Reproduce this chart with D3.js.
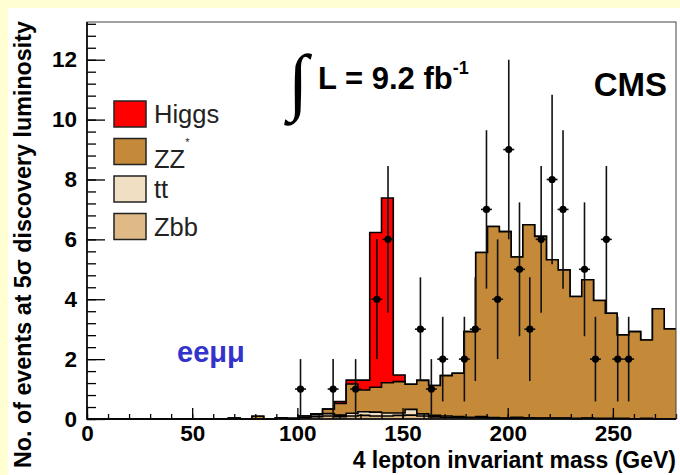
<!DOCTYPE html>
<html>
<head>
<meta charset="utf-8">
<script src="https://cdn.jsdelivr.net/npm/d3@7"></script>
<style>
  body { margin: 0; background: #ffffd2; }
  svg { display: block; font-family: "Liberation Sans", Arial, sans-serif; }
</style>
</head>
<body>
<div class="chart"></div>
<script>
// Histogram binning (GeV)
const massLow = 0;
const massHigh = 280;
const nBins = 50;

// Expected events per bin, one array per sample
const higgs = [
  0, 0, 0, 0, 0, 0, 0, 0, 0, 0, 0, 0, 0, 0, 0, 0, 0, 0, 0, 0, 0,
  0.06, 0.13, 0.33, 5.17, 6.17, 0.22,
  0, 0, 0, 0, 0, 0, 0, 0, 0, 0, 0, 0, 0, 0, 0, 0, 0, 0, 0, 0, 0, 0, 0
];
const zz = [
  0, 0, 0, 0, 0, 0, 0, 0, 0, 0, 0, 0, 0.03, 0, 0.09, 0, 0.02, 0.02, 0.04, 0.03,
  0.15, 0.39, 0.98, 0.73, 0.83, 1.01, 1.05, 0.84, 1.12, 1.0,
  1.35, 1.45, 2.86, 5.48, 6.38, 6.23, 5.35, 6.45, 6.07, 5.29,
  4.95, 4.07, 4.62, 3.94, 3.51, 2.79, 2.91, 2.62, 3.67, 3.0
];
const tt = [
  0, 0, 0, 0, 0, 0, 0, 0, 0, 0, 0, 0, 0, 0, 0, 0, 0, 0, 0.02, 0.06,
  0.08, 0.05, 0.09, 0.12, 0.13, 0.1, 0.08, 0.19, 0.07, 0.05,
  0.04, 0.03, 0.02, 0.04, 0.02, 0.01, 0.03, 0.02, 0.01, 0.01,
  0.01, 0.01, 0.01, 0.01, 0.01, 0.01, 0, 0.01, 0, 0
];
const zbb = [
  0, 0, 0, 0, 0, 0, 0, 0, 0, 0, 0, 0, 0, 0, 0, 0, 0.02, 0, 0.04, 0.08,
  0.1, 0.08, 0.1, 0.12, 0.1, 0.1, 0.12, 0.13, 0.1, 0.07,
  0.06, 0.05, 0.04, 0.04, 0.03, 0.02, 0.03, 0.02, 0.02, 0.02,
  0.02, 0.01, 0.02, 0.01, 0.01, 0.01, 0.01, 0.01, 0.01, 0.01
];

// Pseudo-data points
const dataMass = [101.5, 117.0, 127.7, 137.8, 143.1, 158.5, 163.7, 169.1, 179.4, 184.6, 189.9, 195.2,
  200.5, 205.6, 210.5, 215.9, 221.1, 226.3, 236.5, 241.7, 246.9, 252.3, 257.5];
const dataEvents = [1, 1, 1, 4, 6, 3, 1, 2, 2, 3, 7, 4, 9, 5, 3, 6, 8, 7, 5, 2, 6, 2, 2];

// Legend and axis labels
const sampleKeys = ["higgs", "zz", "tt", "zbb"];
const sampleNames = ["Higgs", "ZZ", "tt", "Zbb"];
const sampleColors = ["#ff0000", "#c48a3a", "#f0dfc2", "#dfba86"];
const xTickLabels = [0, 50, 100, 150, 200, 250];
const yTickLabels = [0, 2, 4, 6, 8, 10, 12];

// Chart sizes
const w = 680;
const h = 475;
const yMax = 13.26;
const plot = { left: 87, right: 676, top: 22, bottom: 419 };

const svg = d3.select(".chart").append("svg").attr("width", w).attr("height", h);

// white canvas inside the yellow page border
svg.append("rect").attr("x", 8).attr("y", 8).attr("width", w - 8).attr("height", h - 8).attr("fill", "#fff");

// SCALES //
const x = d3.scaleLinear().domain([massLow, massHigh]).range([plot.left, plot.right]);
const y = d3.scaleLinear().domain([0, yMax]).range([plot.bottom, plot.top]);

// STACKED HISTOGRAM //
const binWidth = (massHigh - massLow) / nBins;
const table = d3.range(nBins).map((i) => ({
  low: massLow + i * binWidth,
  higgs: higgs[i], zz: zz[i], tt: tt[i], zbb: zbb[i]
}));

const stack = d3.stack().keys(["zbb", "tt", "zz", "higgs"]);
const layers = stack(table);

// steps need one extra point at the upper edge
const stepPoints = (layer) => {
  const pts = layer.map((d) => ({ x: d.data.low, top: d[1] }));
  pts.push({ x: massHigh, top: layer[layer.length - 1][1] });
  return pts;
};

const area = d3.area().curve(d3.curveStepAfter)
  .x((d) => x(d.x)).y0(y(0)).y1((d) => y(d.top));
const line = d3.line().curve(d3.curveStepAfter)
  .x((d) => x(d.x)).y((d) => y(d.top));

// draw like ROOT: total first, then each lower sum on top of it
const hist = svg.append("g");
layers.slice().reverse().forEach((layer) => {
  const pts = stepPoints(layer);
  const color = sampleColors[sampleKeys.indexOf(layer.key)];
  hist.append("path").attr("d", area(pts)).attr("fill", color);
  hist.append("path").attr("d", line(pts)).attr("fill", "none")
    .attr("stroke", "#000").attr("stroke-width", 1.6);
});

// AXIS //
const axisFont = (g) => g.selectAll("text")
  .attr("font-size", 22.5).attr("font-weight", "bold").attr("fill", "#000")
  .attr("font-family", "Liberation Sans, Arial, sans-serif");

// x minor and major ticks, pointing into the frame
svg.append("g").attr("transform", `translate(0, ${plot.bottom})`)
  .call(d3.axisBottom(x).tickValues(d3.range(0, massHigh + 1, 10)).tickSize(-5).tickFormat(""))
  .call((g) => g.select(".domain").remove());
svg.append("g").attr("transform", `translate(0, ${plot.bottom})`)
  .call(d3.axisBottom(x).tickValues(xTickLabels).tickSize(-11).tickPadding(6))
  .call((g) => g.select(".domain").remove())
  .call(axisFont);

// y minor and major ticks
svg.append("g").attr("transform", `translate(${plot.left}, 0)`)
  .call(d3.axisLeft(y).tickValues(d3.range(0, yMax, 0.4)).tickSize(-9).tickFormat(""))
  .call((g) => g.select(".domain").remove());
svg.append("g").attr("transform", `translate(${plot.left}, 0)`)
  .call(d3.axisLeft(y).tickValues(yTickLabels).tickSize(-18).tickPadding(10))
  .call((g) => g.select(".domain").remove())
  .call(axisFont);

svg.selectAll(".tick line").attr("stroke", "#000").attr("stroke-width", 1.3);

// frame
svg.append("rect")
  .attr("x", plot.left).attr("y", plot.top)
  .attr("width", plot.right - plot.left).attr("height", plot.bottom - plot.top)
  .attr("fill", "none").attr("stroke", "#444").attr("stroke-width", 1);
svg.append("path")
  .attr("d", `M${plot.left},${plot.top}V${plot.bottom}H${plot.right}`)
  .attr("fill", "none").attr("stroke", "#000").attr("stroke-width", 1.6);

// DATA POINTS //
const points = svg.append("g");
dataMass.forEach((m, i) => {
  const n = dataEvents[i];
  const err = Math.sqrt(n);
  points.append("line")
    .attr("x1", x(m)).attr("x2", x(m))
    .attr("y1", y(Math.max(0, n - err))).attr("y2", y(n + err))
    .attr("stroke", "#111").attr("stroke-width", 1.6);
  points.append("line")
    .attr("x1", x(m - binWidth / 2 + 0.2)).attr("x2", x(m + binWidth / 2 - 0.2))
    .attr("y1", y(n)).attr("y2", y(n))
    .attr("stroke", "#111").attr("stroke-width", 1.6);
  points.append("circle")
    .attr("cx", x(m)).attr("cy", y(n)).attr("r", 3.6).attr("fill", "#000");
});

// LEGEND //
const legend = svg.append("g").attr("transform", "translate(114, 101)");
sampleNames.forEach((name, i) => {
  const row = legend.append("g").attr("transform", `translate(0, ${i * 37.5})`);
  row.append("rect").attr("width", 32).attr("height", 26)
    .attr("fill", sampleColors[i]).attr("stroke", "#222").attr("stroke-width", 1.5);
  const label = row.append("text").attr("x", 40).attr("y", i === 1 ? 29 : 22)
    .attr("font-size", 25.5).attr("fill", "#222").text(name);
  if (i === 1) label.append("tspan").attr("font-size", 11).attr("dy", -22).text("*");
});

// TEXTS //
svg.append("text")
  .attr("transform", "translate(31, 21) rotate(-90)")
  .attr("text-anchor", "end").attr("font-size", 23.3).attr("font-weight", "bold")
  .text("No. of events at 5σ discovery luminosity");

svg.append("text")
  .attr("x", plot.right).attr("y", 468)
  .attr("text-anchor", "end").attr("font-size", 23).attr("font-weight", "bold")
  .text("4 lepton invariant mass (GeV)");

svg.append("text")
  .attr("x", 288).attr("y", 106)
  .attr("font-size", 74).attr("font-family", "DejaVu Sans").attr("font-weight", "300")
  .text("∫");
const lumi = svg.append("text")
  .attr("x", 318).attr("y", 89)
  .attr("font-size", 31).attr("font-weight", "bold")
  .text("L = 9.2 fb");
lumi.append("tspan").attr("font-size", 18).attr("dy", -15).text("-1");

svg.append("text")
  .attr("x", 667).attr("y", 96)
  .attr("text-anchor", "end").attr("font-size", 33).attr("font-weight", "bold")
  .text("CMS");

svg.append("text")
  .attr("x", 177).attr("y", 362)
  .attr("font-size", 29).attr("font-weight", "bold").attr("fill", "#3333cc")
  .text("eeμμ");
</script>
</body>
</html>
